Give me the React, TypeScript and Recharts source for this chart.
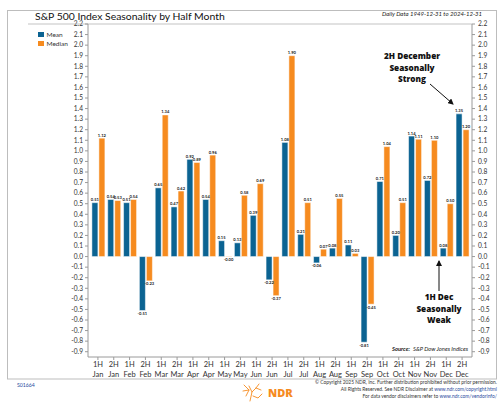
import { BarChart, Bar, XAxis, YAxis, LabelList, Legend } from "recharts";

const categories = [
  "1H Jan", "2H Jan", "1H Feb", "2H Feb", "1H Mar", "2H Mar",
  "1H Apr", "2H Apr", "1H May", "2H May", "1H Jun", "2H Jun",
  "1H Jul", "2H Jul", "1H Aug", "2H Aug", "1H Sep", "2H Sep",
  "1H Oct", "2H Oct", "1H Nov", "2H Nov", "1H Dec", "2H Dec",
];

const meanValues = [
  0.51, 0.54, 0.51, -0.51, 0.65, 0.47,
  0.92, 0.54, 0.15, 0.13, 0.39, -0.22,
  1.08, 0.21, -0.06, 0.08, 0.11, -0.81,
  0.71, 0.2, 1.14, 0.72, 0.08, 1.35,
];

const medianValues = [
  1.12, 0.53, 0.54, -0.23, 1.34, 0.62,
  0.89, 0.96, -0.004, 0.58, 0.69, -0.37,
  1.9, 0.51, 0.07, 0.55, 0.03, -0.45,
  1.04, 0.51, 1.11, 1.1, 0.5, 1.2,
];

const yTicks = [
  -0.9, -0.8, -0.7, -0.6, -0.5, -0.4, -0.3, -0.2, -0.1, 0,
  0.1, 0.2, 0.3, 0.4, 0.5, 0.6, 0.7, 0.8, 0.9, 1.0,
  1.1, 1.2, 1.3, 1.4, 1.5, 1.6, 1.7, 1.8, 1.9, 2.0, 2.1, 2.2,
];

const BLUE = "#0b6392";
const ORANGE = "#f68b1f";
const FONT = "Lato, 'Open Sans', sans-serif";

const data = categories.map((name, i) => ({
  name,
  mean: meanValues[i],
  median: medianValues[i],
}));

function HalfMonthTick({ x, y, payload }: any) {
  const [half, month] = String(payload.value).split(" ");
  return (
    <g>
      <text x={x} y={y + 5} textAnchor="middle" fontSize={7.5} fill="#333" fontFamily={FONT}>
        {half}
      </text>
      <text x={x} y={y + 14.5} textAnchor="middle" fontSize={7.5} fill="#333" fontFamily={FONT}>
        {month}
      </text>
    </g>
  );
}

function ValueLabel({ x, y, width, height, value }: any) {
  const top = Math.min(y, y + height);
  const bottom = Math.max(y, y + height);
  const neg = value < 0;
  return (
    <text
      x={x + width / 2}
      y={neg ? bottom + 4.5 : top - 1.5}
      textAnchor="middle"
      fontSize={4.1}
      fontWeight={700}
      fill="#222"
      fontFamily={FONT}
    >
      {Number(value).toFixed(2)}
    </text>
  );
}

function LegendBox() {
  return (
    <div style={{ fontFamily: FONT, fontSize: 6.5, color: "#333", lineHeight: "9px" }}>
      <div style={{ display: "flex", alignItems: "center", gap: 3 }}>
        <span style={{ width: 5.5, height: 5.5, background: BLUE, display: "inline-block" }} />
        Mean
      </div>
      <div style={{ display: "flex", alignItems: "center", gap: 3 }}>
        <span style={{ width: 5.5, height: 5.5, background: ORANGE, display: "inline-block" }} />
        Median
      </div>
    </div>
  );
}

const fmt = (v: number) => v.toFixed(1);

export default function App() {
  return (
    <div style={{ position: "absolute", left: 0, top: 0, width: 500, height: 404, background: "#fff" }}>
      <BarChart
        width={500}
        height={404}
        data={data}
        margin={{ top: 24, right: 0, left: 0, bottom: 0 }}
        barCategoryGap="12%"
        barGap={1}
      >
        <XAxis
          dataKey="name"
          interval={0}
          height={47}
          padding={{ left: 2, right: 2 }}
          tick={<HalfMonthTick />}
          tickSize={3}
          tickMargin={2}
          stroke="#9a9a9a"
        />
        <YAxis
          yAxisId="left"
          width={28}
          domain={[-0.95, 2.2]}
          ticks={yTicks}
          interval={0}
          tickFormatter={fmt}
          tick={{ fontSize: 6.6, fill: "#333", fontFamily: FONT }}
          tickSize={3}
          tickMargin={2}
          stroke="#9a9a9a"
          allowDataOverflow
        />
        <YAxis
          yAxisId="right"
          orientation="right"
          width={28}
          domain={[-0.95, 2.2]}
          ticks={yTicks}
          interval={0}
          tickFormatter={fmt}
          tick={{ fontSize: 6.6, fill: "#333", fontFamily: FONT }}
          tickSize={3}
          tickMargin={3}
          stroke="#9a9a9a"
          allowDataOverflow
        />
        <Legend
          verticalAlign="top"
          align="left"
          layout="vertical"
          content={<LegendBox />}
          wrapperStyle={{ left: 38, top: 30, width: 60 }}
        />
        <Bar yAxisId="left" dataKey="mean" name="Mean" fill={BLUE} stroke="#ffffff" strokeWidth={0.5} isAnimationActive={false}>
          <LabelList dataKey="mean" content={<ValueLabel />} />
        </Bar>
        <Bar yAxisId="left" dataKey="median" name="Median" fill={ORANGE} stroke="#ffffff" strokeWidth={0.5} isAnimationActive={false}>
          <LabelList dataKey="median" content={<ValueLabel />} />
        </Bar>
      </BarChart>

      <svg width={500} height={404} style={{ position: "absolute", left: 0, top: 0, pointerEvents: "none" }}>
        <defs>
          <marker id="arrowhead" markerWidth="6" markerHeight="6" refX="5" refY="3" orient="auto">
            <path d="M0,0 L6,3 L0,6 Z" fill="#111" />
          </marker>
        </defs>
        {/* outer frame */}
        <rect x={7.5} y={10.5} width={489} height={368.5} fill="none" stroke="#bdbdbd" strokeWidth={1} />
        {/* top edge of plot */}
        <line x1={28} y1={24} x2={472} y2={24} stroke="#9a9a9a" strokeWidth={0.6} />

        <text x={35} y={19.5} fontSize={10.4} fill="#111" fontFamily={FONT}>
          S&amp;P 500 Index Seasonality by Half Month
        </text>
        <text x={482} y={16} textAnchor="end" fontSize={6} fontStyle="italic" fill="#222" fontFamily={FONT}>
          Daily Data 1949-12-31 to 2024-12-31
        </text>

        <g fontFamily="'Open Sans', sans-serif" fontWeight={800} fontSize={8.2} fill="#111" textAnchor="middle">
          <text x={412} y={59}>2H December</text>
          <text x={412} y={70.5}>Seasonally</text>
          <text x={412} y={82}>Strong</text>
          <text x={439} y={300}>1H Dec</text>
          <text x={439} y={311.5}>Seasonally</text>
          <text x={439} y={323}>Weak</text>
        </g>
        <line x1={430} y1={84} x2={453} y2={104} stroke="#111" strokeWidth={1} markerEnd="url(#arrowhead)" />
        <line x1={439} y1={291} x2={439} y2={261} stroke="#111" strokeWidth={1} markerEnd="url(#arrowhead)" />

        <text x={468} y={351} textAnchor="end" fontSize={5.8} fontStyle="italic" fill="#222" fontFamily={FONT}>
          <tspan fontWeight={700}>Source:</tspan>
          <tspan dx={3}>S&amp;P Dow Jones Indices</tspan>
        </text>

        <text x={17} y={387} fontSize={5.2} fill="#2a4a9e" fontFamily={FONT}>
          S01664
        </text>

        {/* NDR logo */}
        <g stroke={ORANGE} strokeWidth={0.9} fill="none" strokeLinecap="round">
          <path d="M250,401 L252,392 L249,386 M252,392 L256,388 L259,384 M256,388 L261,390" />
          <path d="M246,396 L249,390 L244,385 M249,390 L243,391" />
          <path d="M253,396 L258,398 L262,394" />
        </g>
        <text x={268} y={396.5} fontSize={11} fontWeight={800} fill={ORANGE} fontFamily="'Open Sans', sans-serif">
          NDR
        </text>

        <g fontSize={4.9} fill="#333" fontFamily={FONT} textAnchor="end">
          <text x={497} y={384}>
            © Copyright 2025 NDR, Inc. Further distribution prohibited without prior permission.
          </text>
          <text x={497} y={391}>
            All Rights Reserved. See NDR Disclaimer at <tspan fill="#2a4a9e">www.ndr.com/copyright.html</tspan>
          </text>
          <text x={497} y={398}>
            For data vendor disclaimers refer to <tspan fill="#2a4a9e">www.ndr.com/vendorinfo/</tspan>
          </text>
        </g>
      </svg>
    </div>
  );
}
